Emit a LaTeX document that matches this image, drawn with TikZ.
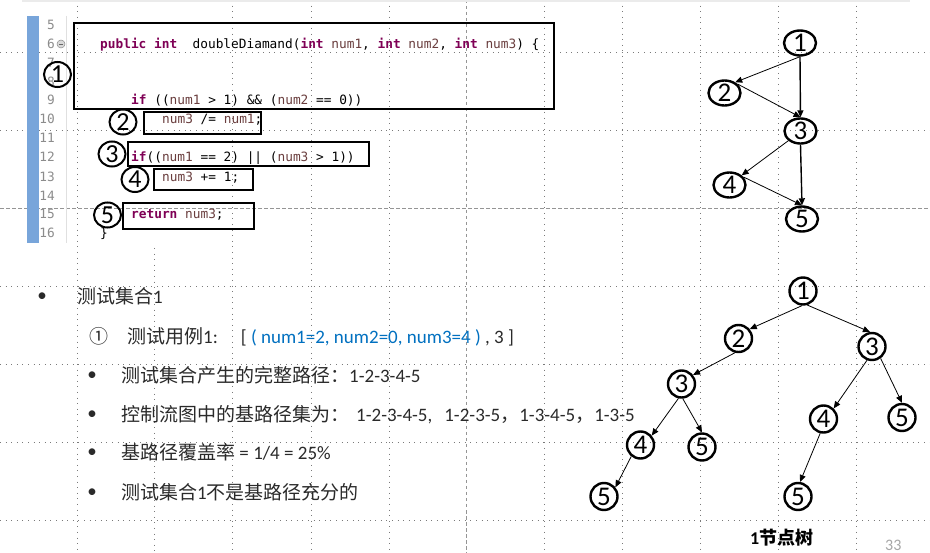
\documentclass[tikz,border=0pt]{standalone}
\usepackage{fontspec}
\setmainfont{Carlito}
\newfontfamily\cjk{Noto Sans CJK SC}
\newfontfamily\codefont{DejaVu Sans Mono}[WordSpace={1,0,0}]
\usetikzlibrary{shapes.geometric,arrows.meta}
\definecolor{kwc}{HTML}{7F0055}
\definecolor{varc}{HTML}{6A3E3E}
\definecolor{blu}{HTML}{0070C0}
\definecolor{gridc}{HTML}{7A7A7A}
\definecolor{txt}{HTML}{2A2A2A}
\definecolor{barc}{HTML}{78A5DA}
\definecolor{lnc}{HTML}{8C8C8C}
\newcommand\ckw[1]{{\color{kwc}\bfseries #1}}
\newcommand\cvar[1]{{\color{varc}#1}}
\begin{document}
\begin{tikzpicture}[x=1pt,y=-1pt,
  gridl/.style={gridc, line width=0.7pt, dash pattern=on 0.8pt off 4.8pt},
  gridd/.style={gridc!80, line width=0.7pt, dash pattern=on 3.5pt off 2.5pt},
  codebox/.style={draw, line width=2pt},
  codetxt/.style={anchor=base west, inner sep=0, font=\codefont\fontsize{12.8}{15}\selectfont},
  lnum/.style={anchor=base east, inner sep=0, text=lnc, font=\codefont\fontsize{12.8}{15}\selectfont},
  ccirc/.style={ellipse, draw, line width=2pt, minimum width=27pt, minimum height=25pt, inner sep=0, font=\fontsize{26}{26}\selectfont},
  gnode/.style={ellipse, draw, line width=2.4pt, minimum width=32pt, minimum height=25pt, inner sep=0, font=\fontsize{27}{27}\selectfont},
  tnode/.style={circle, draw, line width=2.4pt, minimum size=27pt, inner sep=0, font=\fontsize{27}{27}\selectfont},
  arr/.style={-{Triangle[length=7pt,width=6pt]}, line width=0.8pt},
  arrb/.style={arr, line width=1.4pt},
  body/.style={anchor=base west, inner sep=0, text=txt, font=\fontsize{19}{22}\selectfont},
  bul/.style={anchor=center, inner sep=0, text=txt, font=\fontsize{19}{22}\selectfont}]
\useasboundingbox (0,0) rectangle (930,553);
\fill[white] (0,0) rectangle (930,553);
% grid
\foreach \gy in {52,130,286,364,442,520} \draw[gridl] (0,\gy) -- (930,\gy);
\draw[gridd] (0,208) -- (930,208);
\foreach \gx in {77,232,311,389,544,622,700,778,856} \draw[gridl] (\gx,0) -- (\gx,553);
\draw[gridl] (154,248) -- (154,553);
\draw[gridd] (466,0) -- (466,553);
\draw[line width=2pt, black!8] (22,1) -- (910,1);
% code editor
\fill[barc] (27,16) rectangle (39,243);
\draw[black!12, line width=0.6pt] (66,16) -- (66,243);
\node[lnum] (n5) at (55,29.5) {5};
\node[lnum] (n6) at (55,48.5) {6};
\node[circle, draw=black!45, fill=black!15, line width=0.5pt, minimum size=8pt, inner sep=0] (fold) at (61,44) {};
\draw[black!60, line width=0.8pt] (fold.west) ++(2pt,0) -- ++(4pt,0);
\node[lnum] (n7) at (55,67.5) {7};
\node[lnum] (n8) at (55,86.5) {8};
\node[lnum] (n9) at (55,104.5) {9};
\node[lnum] (n10) at (55,123.5) {10};
\node[lnum] (n11) at (55,142.5) {11};
\node[lnum] (n12) at (55,161.5) {12};
\node[lnum] (n13) at (55,181.5) {13};
\node[lnum] (n14) at (55,200.5) {14};
\node[lnum] (n15) at (55,218.5) {15};
\node[lnum] (n16) at (55,237.5) {16};
\node[codetxt] (c6) at (100,48.5) {\ckw{public} \ckw{int}\ \ doubleDiamand(\ckw{int} \cvar{num1}, \ckw{int} \cvar{num2}, \ckw{int} \cvar{num3}) \{};
\node[codetxt] (c9) at (131,104.5) {\ckw{if} ((\cvar{num1} > 1) \&\& (\cvar{num2} == 0))};
\node[codetxt] (c10) at (162,123.5) {\cvar{num3} /= \cvar{num1};};
\node[codetxt] (c12) at (131,161.5) {\ckw{if}((\cvar{num1} == 2) || (\cvar{num3} > 1))};
\node[codetxt] (c13) at (162,181.5) {\cvar{num3} += 1;};
\node[codetxt] (c15) at (131,218.5) {\ckw{return} \cvar{num3};};
\node[codetxt] (c16) at (100,237.5) {\}};
\draw[codebox] (74,23) rectangle (554,109);
\draw[codebox] (144,112) rectangle (261,134);
\draw[codebox] (128,142) rectangle (369,166);
\draw[codebox] (154,169) rectangle (253,190);
\draw[codebox] (123,203) rectangle (254,229);
\node[ccirc] (k1) at (57.5,74.5) {1};
\node[ccirc] (k2) at (123,122) {2};
\node[ccirc] (k3) at (112,154) {3};
\node[ccirc] (k4) at (135,179.5) {4};
\node[ccirc] (k5) at (107.5,215) {5};
% control flow graph
\node[gnode] (g1) at (800,43) {1};
\node[gnode] (g2) at (724.5,93) {2};
\node[gnode] (g3) at (800.5,131) {3};
\node[gnode] (g4) at (729.5,185) {4};
\node[gnode] (g5) at (802,219) {5};
\draw[arr] (g1.south) -- (g2.45);
\draw[arrb] (g1.south) -- (g3.north);
\draw[arr] (g2.35) -- (g3.north);
\draw[arr] (g3.south west) -- (g4.north east);
\draw[arrb] (g3.south) -- (g5.north);
\draw[arr] (g4.30) -- (g5.north);
% tree
\node[tnode] (t1) at (803,291) {1};
\node[tnode] (t2) at (738.5,338.5) {2};
\node[tnode] (t3r) at (872,346.5) {3};
\node[tnode] (t3l) at (681.5,384) {3};
\node[tnode] (t4r) at (823.5,419) {4};
\node[tnode] (t5r) at (902,417.5) {5};
\node[tnode] (t4l) at (640.5,445) {4};
\node[tnode] (t5m) at (702,447) {5};
\node[tnode] (t5l) at (604,496.5) {5};
\node[tnode] (t5b) at (798,496.5) {5};
\draw[arr] (t1.266) -- (t2.40);
\draw[arr] (t1.287) -- (t3r.98);
\draw[arr] (t2.256) -- (t3l.38);
\draw[arr] (t3l.258) -- (t4l.40);
\draw[arr] (t3l.275) -- (t5m.90);
\draw[arr] (t4l.231) -- (t5l.39);
\draw[arr] (t3r.250) -- (t4r.46);
\draw[arr] (t3r.306) -- (t5r.90);
\draw[arr] (t4r.257) -- (t5b.82);
% text
\node[bul] (b0) at (42,297) {\textbullet};
\node[body] (h1) at (77,304) {{\cjk 测试集合}1};
\node[body] (tc) at (89,344) {{\cjk ①}\hspace{19pt}{\cjk 测试用例}1:\hspace{23pt}[ {\color{blu}( num1=2, num2=0, num3=4 )} , 3 ]};
\node[bul] (b1) at (92,376) {\textbullet};
\node[body] (l1) at (121,383) {{\cjk 测试集合产生的完整路径：}1-2-3-4-5};
\node[bul] (b2) at (92,415) {\textbullet};
\node[body] (l2) at (121,422) {{\cjk 控制流图中的基路径集为：}\hspace{7pt}1-2-3-4-5,\hspace{12pt}1-2-3-5{\cjk ，}1-3-4-5{\cjk ，}1-3-5};
\node[bul] (b3) at (92,453) {\textbullet};
\node[body] (l3) at (121,460) {{\cjk 基路径覆盖率} = 1/4 = 25\%};
\node[bul] (b4) at (92,493) {\textbullet};
\node[body] (l4) at (121,500) {{\cjk 测试集合}1{\cjk 不是基路径充分的}};
\node[anchor=base west, inner sep=0, font=\fontsize{18}{20}\selectfont\bfseries] (cap) at (750,544.5) {1{\cjk\bfseries 节点树}};
\node[anchor=base west, inner sep=0, text=black!35, font=\fontsize{16}{18}\selectfont] (pg) at (885,550) {33};
\end{tikzpicture}
\end{document}
